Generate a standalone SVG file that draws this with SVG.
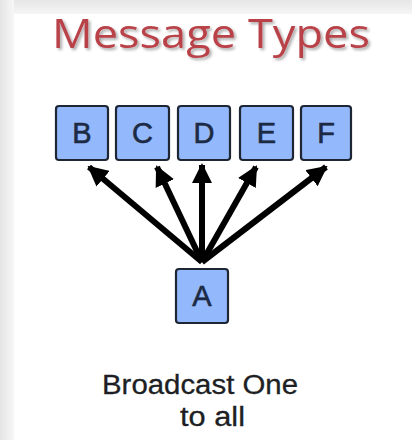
<svg xmlns="http://www.w3.org/2000/svg" width="412" height="440" viewBox="0 0 412 440">
  <defs>
    <linearGradient id="edgeLeft" x1="0" y1="0" x2="1" y2="0">
      <stop offset="0" stop-color="#e4e4e4"/>
      <stop offset="1" stop-color="#f7f7f7"/>
    </linearGradient>
    <linearGradient id="edgeTop" x1="0" y1="0" x2="0" y2="1">
      <stop offset="0" stop-color="#e6e6e6"/>
      <stop offset="1" stop-color="#f6f6f6"/>
    </linearGradient>
    <filter id="titleShadow" x="-5%" y="-20%" width="110%" height="150%">
      <feGaussianBlur in="SourceAlpha" stdDeviation="1.5"/>
      <feOffset dx="1.5" dy="2" result="b"/>
      <feComponentTransfer><feFuncA type="linear" slope="0.35"/></feComponentTransfer>
      <feMerge><feMergeNode/><feMergeNode in="SourceGraphic"/></feMerge>
    </filter>
    <marker id="head" viewBox="0 0 10 10" refX="9" refY="5" markerWidth="3.4" markerHeight="3.4" orient="auto" markerUnits="strokeWidth">
      <path d="M0,0 L10,5 L0,10 z" fill="#000"/>
    </marker>
    <style>
      .box { fill: #93b8fb; stroke: #1e2633; stroke-width: 2.2; }
      .lbl { font-family: "Liberation Sans", Arial, sans-serif; font-size: 29px; fill: #1c2a44; text-anchor: middle; stroke: #1c2a44; stroke-width: 0.6; }
      .arrow { stroke: #000; stroke-width: 6; fill: none; marker-end: url(#head); }
      .title { font-family: "Open Sans", "Liberation Sans", sans-serif; font-size: 40px; fill: #b9424a; }
      .caption { font-family: "Liberation Sans", Arial, sans-serif; font-size: 27px; fill: #1d1f24; stroke: #1d1f24; stroke-width: 0.3; }
    </style>
  </defs>

  <!-- page background with slide edge shading -->
  <rect x="0" y="0" width="412" height="440" fill="#ffffff"/>
  <rect x="0" y="0" width="412" height="14" fill="url(#edgeTop)"/>
  <rect x="0" y="0" width="14" height="440" fill="url(#edgeLeft)"/>

  <text class="title" x="52" y="48" textLength="318" lengthAdjust="spacingAndGlyphs" filter="url(#titleShadow)">Message Types</text>

  <g id="connectors">
    <line class="arrow" x1="202" y1="262" x2="89" y2="167"/>
    <line class="arrow" x1="202" y1="262" x2="157" y2="167"/>
    <line class="arrow" x1="202" y1="262" x2="202" y2="165"/>
    <line class="arrow" x1="202" y1="262" x2="256" y2="167"/>
    <line class="arrow" x1="202" y1="262" x2="326" y2="167"/>
  </g>

  <g id="node-B"><rect class="box" x="56" y="106" width="52" height="54" rx="3"/><text class="lbl" x="82" y="143">B</text></g>
  <g id="node-C"><rect class="box" x="116" y="106" width="53" height="54" rx="3"/><text class="lbl" x="142.5" y="143">C</text></g>
  <g id="node-D"><rect class="box" x="178" y="106" width="52" height="54" rx="3"/><text class="lbl" x="204" y="143">D</text></g>
  <g id="node-E"><rect class="box" x="240" y="106" width="53" height="54" rx="3"/><text class="lbl" x="266.5" y="143">E</text></g>
  <g id="node-F"><rect class="box" x="301" y="106" width="50" height="54" rx="3"/><text class="lbl" x="326" y="143">F</text></g>
  <g id="node-A"><rect class="box" x="176" y="269" width="52" height="54" rx="3"/><text class="lbl" x="202" y="306">A</text></g>

  <g id="caption">
    <text class="caption" x="102" y="394" textLength="196" lengthAdjust="spacingAndGlyphs">Broadcast One</text>
    <text class="caption" x="180" y="426" textLength="65" lengthAdjust="spacingAndGlyphs">to all</text>
  </g>
</svg>
